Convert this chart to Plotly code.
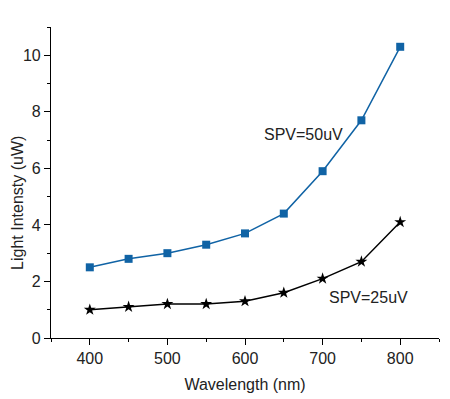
import plotly.graph_objects as go

wavelength = [400, 450, 500, 550, 600, 650, 700, 750, 800]
spv50 = [2.5, 2.8, 3.0, 3.3, 3.7, 4.4, 5.9, 7.7, 10.3]
spv25 = [1.0, 1.1, 1.2, 1.2, 1.3, 1.6, 2.1, 2.7, 4.1]
x_title = "Wavelength (nm)"
y_title = "Light Intensty (uW)"
label50 = "SPV=50uV"
label25 = "SPV=25uV"

BLUE = "#1063a5"
FONT = "Liberation Sans, Arial, sans-serif"
TXT = "#222222"

fig = go.Figure()
fig.add_trace(go.Scatter(x=wavelength, y=spv50, mode="lines+markers",
                         line=dict(color=BLUE, width=1.5),
                         marker=dict(symbol="square", size=8, color=BLUE),
                         showlegend=False, cliponaxis=False))
fig.add_trace(go.Scatter(x=wavelength, y=spv25, mode="lines+markers",
                         line=dict(color="black", width=1.5),
                         marker=dict(symbol="star", size=9, color="black"),
                         showlegend=False, cliponaxis=False))

fig.add_annotation(x=676, y=7.2, text=label50, showarrow=False,
                   font=dict(family=FONT, size=16, color=TXT))
fig.add_annotation(x=759, y=1.45, text=label25, showarrow=False,
                   font=dict(family=FONT, size=16, color=TXT))
fig.add_annotation(xref="paper", yref="paper", x=-0.088, y=0.434,
                   xanchor="center", yanchor="middle", textangle=-90,
                   text=y_title, showarrow=False,
                   font=dict(family=FONT, size=16, color=TXT))

# page body has an 8px default margin; figure sized to fit the 450x399 window
fig.update_layout(
    width=442, height=391,
    margin=dict(l=43, r=11, t=19, b=61, autoexpand=False),
    paper_bgcolor="white", plot_bgcolor="white",
    font=dict(family=FONT, size=16, color=TXT),
    xaxis=dict(range=[350, 850], tick0=400, dtick=100, ticks="outside",
               ticklen=6, tickwidth=1.2, tickcolor="black",
               showline=True, linecolor="black", linewidth=1.2,
               showgrid=False, zeroline=False, automargin=False,
               minor=dict(tick0=350, dtick=50, ticks="outside", ticklen=3,
                          tickwidth=1.2, tickcolor="black", showgrid=False),
               title=dict(text=x_title, standoff=12,
                          font=dict(family=FONT, size=16, color=TXT)),
               tickfont=dict(family=FONT, size=16, color=TXT)),
    yaxis=dict(range=[0, 11], tick0=0, dtick=2, ticks="outside",
               ticklen=6, tickwidth=1.2, tickcolor="black",
               showline=True, linecolor="black", linewidth=1.2,
               showgrid=False, zeroline=False, automargin=False,
               minor=dict(tick0=1, dtick=2, ticks="outside", ticklen=3,
                          tickwidth=1.2, tickcolor="black", showgrid=False),
               tickfont=dict(family=FONT, size=16, color=TXT)),
)

fig.write_html("out.html")
